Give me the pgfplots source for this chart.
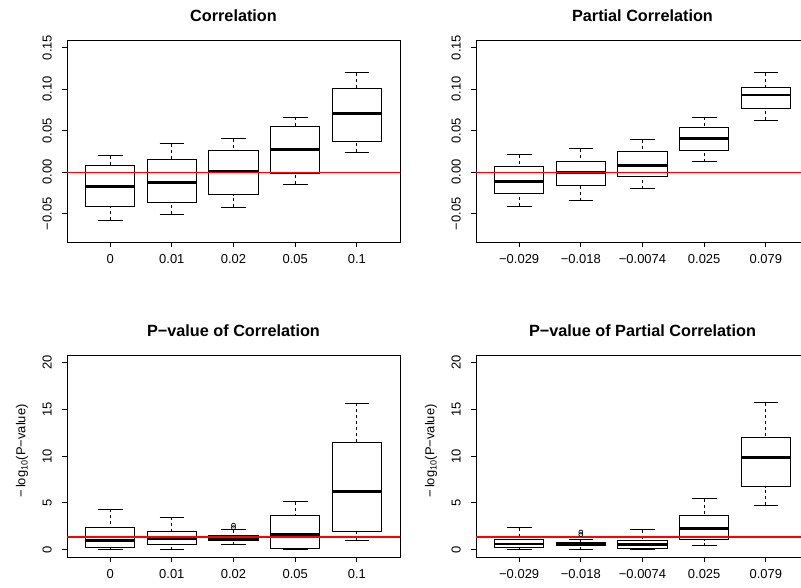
\documentclass[border=0pt]{standalone}
\usepackage{fontspec}
\setmainfont{Liberation Sans}
\usepackage{pgfplots}
\pgfplotsset{compat=1.18}
\usepgfplotslibrary{statistics}

\pgfplotsset{
  rpanel/.style={
    scale only axis, width=333bp, height=202bp, anchor=south west,
    xmin=0.3, xmax=5.7, xtick={1,2,3,4,5},
    tick pos=left, tick align=outside, major tick length=5bp,
    every tick/.style={black, line width=0.8bp},
    axis line style={black, line width=0.8bp},
    xticklabel style={font=\fontsize{13}{15}\selectfont, anchor=base},
    xticklabel shift=16.4bp,
    yticklabel style={font=\fontsize{13}{15}\selectfont, rotate=90, anchor=base},
    yticklabel shift=10.3bp,
    every axis title/.style={at={(0.5,1)}, anchor=base, yshift=18.5bp,
      font=\fontsize{16.3}{19}\selectfont\bfseries},
    every axis y label/.style={at={(0,0.5)}, xshift=-45bp, yshift=5bp, rotate=90, anchor=center,
      font=\fontsize{13}{15}\selectfont},
  },
  rbp/.style={
    black, line width=0.9bp, solid, mark=none,
    /pgfplots/boxplot/draw direction=y,
    /pgfplots/boxplot/draw/lower whisker/.code={%
      \draw[/pgfplots/boxplot/every whisker/.try, dash pattern=on 3bp off 3bp]
        (boxplot box cs:\pgfplotsboxplotvalue{lower whisker},0.5) --
        (boxplot box cs:\pgfplotsboxplotvalue{lower quartile},0.5);
      \draw[/pgfplots/boxplot/every whisker/.try]
        (boxplot whisker cs:\pgfplotsboxplotvalue{lower whisker},0) --
        (boxplot whisker cs:\pgfplotsboxplotvalue{lower whisker},1);},
    /pgfplots/boxplot/draw/upper whisker/.code={%
      \draw[/pgfplots/boxplot/every whisker/.try, dash pattern=on 3bp off 3bp]
        (boxplot box cs:\pgfplotsboxplotvalue{upper whisker},0.5) --
        (boxplot box cs:\pgfplotsboxplotvalue{upper quartile},0.5);
      \draw[/pgfplots/boxplot/every whisker/.try]
        (boxplot whisker cs:\pgfplotsboxplotvalue{upper whisker},0) --
        (boxplot whisker cs:\pgfplotsboxplotvalue{upper whisker},1);},
    /pgfplots/boxplot/every median/.style={line width=2.7bp},
  },
  rout/.style={black, only marks, mark=o, mark size=2bp, mark options={solid, line width=0.7bp}},
  rred/.style={draw=red, color=red, line width=1.1bp, mark=none, solid},
  rredb/.style={draw=red, color=red, line width=1.8bp, mark=none, solid},
}

\begin{document}
\begin{tikzpicture}
\useasboundingbox (0,0) rectangle (801bp,588bp);
\clip (0,0) rectangle (801bp,588bp);

% ---------------- Correlation ----------------
\begin{axis}[rpanel, at={(67bp,346bp)},
  title={Correlation},
  ymin=-0.084, ymax=0.159,
  ytick={-0.05,0,0.05,0.1,0.15},
  yticklabels={−0.05,0.00,0.05,0.10,0.15},
  xticklabels={0,0.01,0.02,0.05,0.1}]
\addplot[rbp, boxplot prepared={draw position=1, lower whisker=-0.0576, lower quartile=-0.0416, median=-0.0172, upper quartile=0.0076, upper whisker=0.020, box extend=0.8, whisker extend=0.4}] coordinates {};
\addplot[rbp, boxplot prepared={draw position=2, lower whisker=-0.0504, lower quartile=-0.036, median=-0.0124, upper quartile=0.0152, upper whisker=0.034, box extend=0.8, whisker extend=0.4}] coordinates {};
\addplot[rbp, boxplot prepared={draw position=3, lower whisker=-0.0424, lower quartile=-0.0272, median=0.0004, upper quartile=0.0264, upper whisker=0.0404, box extend=0.8, whisker extend=0.4}] coordinates {};
\addplot[rbp, boxplot prepared={draw position=4, lower whisker=-0.0148, lower quartile=-0.0016, median=0.0276, upper quartile=0.0544, upper whisker=0.066, box extend=0.8, whisker extend=0.4}] coordinates {};
\addplot[rbp, boxplot prepared={draw position=5, lower whisker=0.024, lower quartile=0.0372, median=0.0708, upper quartile=0.1004, upper whisker=0.1196, box extend=0.8, whisker extend=0.4}] coordinates {};
\addplot[rred] coordinates {(0.3,0) (5.7,0)};
\end{axis}

% ---------------- Partial Correlation ----------------
\begin{axis}[rpanel, at={(476bp,346bp)},
  title={Partial Correlation},
  ymin=-0.084, ymax=0.159,
  ytick={-0.05,0,0.05,0.1,0.15},
  yticklabels={−0.05,0.00,0.05,0.10,0.15},
  xticklabels={−0.029,−0.018,−0.0074,0.025,0.079}]
\addplot[rbp, boxplot prepared={draw position=1, lower whisker=-0.0408, lower quartile=-0.0252, median=-0.0112, upper quartile=0.0064, upper whisker=0.0208, box extend=0.8, whisker extend=0.4}] coordinates {};
\addplot[rbp, boxplot prepared={draw position=2, lower whisker=-0.0344, lower quartile=-0.0156, median=0.0, upper quartile=0.0132, upper whisker=0.028, box extend=0.8, whisker extend=0.4}] coordinates {};
\addplot[rbp, boxplot prepared={draw position=3, lower whisker=-0.02, lower quartile=-0.0048, median=0.0084, upper quartile=0.0248, upper whisker=0.0392, box extend=0.8, whisker extend=0.4}] coordinates {};
\addplot[rbp, boxplot prepared={draw position=4, lower whisker=0.0124, lower quartile=0.0256, median=0.0404, upper quartile=0.0536, upper whisker=0.0664, box extend=0.8, whisker extend=0.4}] coordinates {};
\addplot[rbp, boxplot prepared={draw position=5, lower whisker=0.0628, lower quartile=0.0764, median=0.0928, upper quartile=0.1024, upper whisker=0.1196, box extend=0.8, whisker extend=0.4}] coordinates {};
\addplot[rred] coordinates {(0.3,0) (5.7,0)};
\end{axis}

% ---------------- P-value of Correlation ----------------
\begin{axis}[rpanel, at={(67bp,31bp)},
  title={P−value of Correlation},
  ylabel={−\,log\textsubscript{10}(P−value)},
  ymin=-0.8, ymax=20.8,
  ytick={0,5,10,15,20},
  yticklabels={0,5,10,15,20},
  xticklabels={0,0.01,0.02,0.05,0.1}]
\addplot[rbp, boxplot prepared={draw position=1, lower whisker=0, lower quartile=0.18, median=1.0, upper quartile=2.38, upper whisker=4.32, box extend=0.8, whisker extend=0.4}] coordinates {};
\addplot[rbp, boxplot prepared={draw position=2, lower whisker=0, lower quartile=0.49, median=1.16, upper quartile=1.91, upper whisker=3.43, box extend=0.8, whisker extend=0.4}] coordinates {};
\addplot[rbp, boxplot prepared={draw position=3, lower whisker=0.5, lower quartile=0.92, median=1.18, upper quartile=1.5, upper whisker=2.1, box extend=0.8, whisker extend=0.4}] coordinates {};
\addplot[rout] coordinates {(3,2.33) (3,2.6)};
\addplot[rbp, boxplot prepared={draw position=4, lower whisker=0, lower quartile=0.11, median=1.57, upper quartile=3.68, upper whisker=5.1, box extend=0.8, whisker extend=0.4}] coordinates {};
\addplot[rbp, boxplot prepared={draw position=5, lower whisker=1.02, lower quartile=1.93, median=6.21, upper quartile=11.43, upper whisker=15.62, box extend=0.8, whisker extend=0.4}] coordinates {};
\addplot[rredb] coordinates {(0.3,1.301) (5.7,1.301)};
\end{axis}

% ---------------- P-value of Partial Correlation ----------------
\begin{axis}[rpanel, at={(476bp,31bp)},
  title={P−value of Partial Correlation},
  ylabel={−\,log\textsubscript{10}(P−value)},
  ymin=-0.8, ymax=20.8,
  ytick={0,5,10,15,20},
  yticklabels={0,5,10,15,20},
  xticklabels={−0.029,−0.018,−0.0074,0.025,0.079}]
\addplot[rbp, boxplot prepared={draw position=1, lower whisker=0, lower quartile=0.17, median=0.6, upper quartile=1.1, upper whisker=2.34, box extend=0.8, whisker extend=0.4}] coordinates {};
\addplot[rbp, boxplot prepared={draw position=2, lower whisker=0, lower quartile=0.4, median=0.55, upper quartile=0.8, upper whisker=1.08, box extend=0.8, whisker extend=0.4}] coordinates {};
\addplot[rout] coordinates {(2,1.6) (2,1.87)};
\addplot[rbp, boxplot prepared={draw position=3, lower whisker=0, lower quartile=0.15, median=0.56, upper quartile=0.97, upper whisker=2.11, box extend=0.8, whisker extend=0.4}] coordinates {};
\addplot[rbp, boxplot prepared={draw position=4, lower whisker=0.39, lower quartile=1.07, median=2.23, upper quartile=3.68, upper whisker=5.43, box extend=0.8, whisker extend=0.4}] coordinates {};
\addplot[rbp, boxplot prepared={draw position=5, lower whisker=4.75, lower quartile=6.71, median=9.82, upper quartile=11.96, upper whisker=15.71, box extend=0.8, whisker extend=0.4}] coordinates {};
\addplot[rredb] coordinates {(0.3,1.301) (5.7,1.301)};
\end{axis}
\end{tikzpicture}
\end{document}
